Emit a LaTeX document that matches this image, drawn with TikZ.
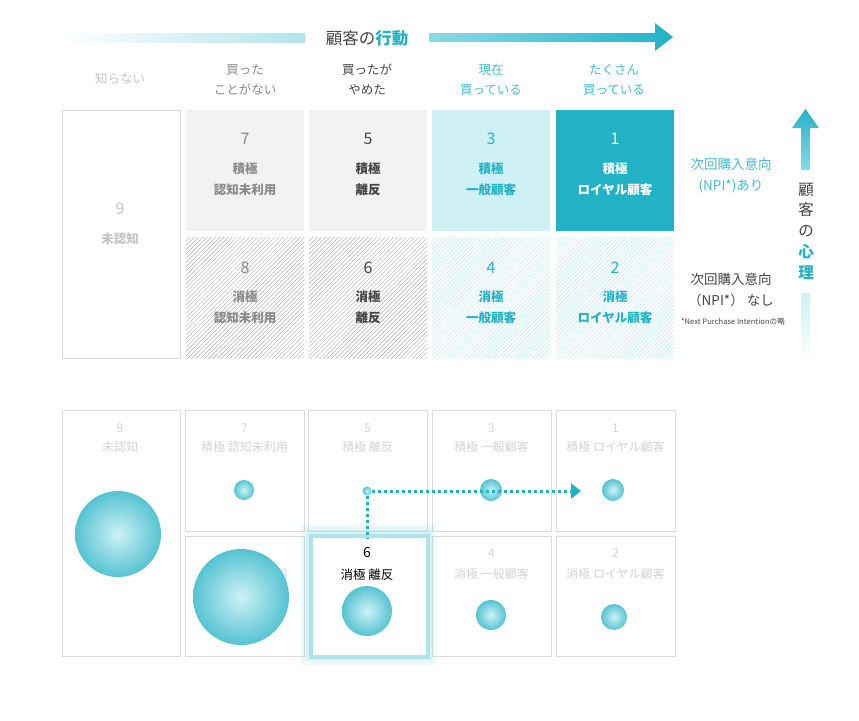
\documentclass[tikz,border=0pt]{standalone}
\usepackage{fontspec}
\setmainfont{Noto Sans CJK JP}
\usetikzlibrary{arrows.meta,patterns.meta}
\definecolor{tealmain}{HTML}{22B2C6}
\definecolor{teallight}{HTML}{CFF1F5}
\definecolor{teallite}{HTML}{8DD9E3}
\definecolor{tealhatch}{HTML}{B4E6ED}
\definecolor{ballin}{HTML}{CDF2F6}
\definecolor{ballout}{HTML}{55C3D2}
\definecolor{boxgray}{HTML}{F2F2F2}
\definecolor{linegray}{HTML}{DADADA}
\definecolor{hatchgray}{HTML}{ABABAB}
\definecolor{txtgray}{HTML}{8A8A8A}
\definecolor{txtdark}{HTML}{444444}
\definecolor{txtpale}{HTML}{C4C4C4}
\definecolor{txtfaint}{HTML}{D4D4D4}

\begin{document}
\begin{tikzpicture}[x=1pt,y=-1pt,
  cell/.style={anchor=north west,inner sep=0pt,minimum width=118pt,minimum height=121pt},
  frame/.style={anchor=north west,inner sep=0pt,draw=linegray,line width=1pt,fill=white,minimum width=119pt,minimum height=121pt},
  num/.style={font=\fontsize{16}{16}\selectfont},
  lab/.style={font=\fontsize{12.5}{21}\selectfont\bfseries,align=center},
  head/.style={font=\fontsize{12.5}{20}\selectfont,align=center},
  faint/.style={text=txtfaint,font=\fontsize{12}{12}\selectfont},
  ball/.style={circle,inner sep=0pt,shading=radial,inner color=ballin,outer color=ballout},
  hatch/.style={pattern={Lines[angle=45,distance=3pt,line width=.45pt]}},
  dotline/.style={tealmain,line width=3pt,dash pattern=on 3pt off 3pt}
]
\useasboundingbox (0,0) rectangle (859,720);

\shade[left color=white,right color=tealmain!35] (60,33) rectangle (305,42);
\node[font=\fontsize{16.5}{16.5}\selectfont,text=txtdark] (title) at (367,38) {顧客の{\color{tealmain}\bfseries 行動}};
\shade[left color=teallite,right color=tealmain] (429,33) -- (655,33) -- (655,23) -- (673,37) -- (655,51) -- (655,42) -- (429,42) -- cycle;

\node[head,text=txtpale] (h9) at (120,79) {知らない};
\node[head,text=txtgray] (h7) at (245,80) {買った\\ことがない};
\node[head,text=txtdark] (h5) at (367,80) {買ったが\\やめた};
\node[head,text=tealmain!85] (h3) at (491,80) {現在\\買っている};
\node[head,text=tealmain!85] (h1) at (614,80) {たくさん\\買っている};

\node[cell,draw=linegray,line width=1pt,fill=white,minimum height=248pt] (t9) at (62,110) {};
\node[num,text=txtpale] (n9) at (120,209) {9};
\node[lab,text=txtpale] (l9) at (120,239) {未認知};
\foreach \x/\n/\fc/\tc/\lab in {186/7/boxgray/txtgray/認知未利用, 309/5/boxgray/txtdark/離反, 432/3/teallight/tealmain/一般顧客, 556/1/tealmain/white/ロイヤル顧客}
{
  \node[cell,fill=\fc] (t\n) at (\x,110) {};
  \node[num,text=\tc] (n\n) at (\x+59,139) {\n};
  \node[lab,text=\tc] (l\n) at (\x+59,179.5) {積極\\\lab};
}
\foreach \x/\n/\pc/\tc/\lab in {186/8/hatchgray/txtgray/認知未利用, 309/6/hatchgray/txtdark/離反, 432/4/tealhatch/tealmain/一般顧客, 556/2/tealhatch/tealmain/ロイヤル顧客}
{
  \node[cell,hatch,pattern color=\pc] (t\n) at (\x,237) {};
  \node[num,text=\tc] (n\n) at (\x+59,268) {\n};
  \node[lab,text=\tc] (l\n) at (\x+59,307.5) {消極\\\lab};
}

\node[head,font=\fontsize{13.5}{21}\selectfont,text=tealmain!85] (npi1) at (731,175.5) {次回購入意向\\(NPI*)あり};
\node[head,font=\fontsize{13.5}{21}\selectfont,text=txtdark] (npi0) at (731,289.5) {次回購入意向\\（NPI*） なし};
\node[font=\fontsize{7.6}{7.6}\selectfont,text=txtdark] (note) at (733,322) {*Next Purchase Intentionの略};

\shade[top color=tealmain,bottom color=teallite] (801,170) -- (801,128) -- (792,128) -- (805.5,109) -- (819,128) -- (810,128) -- (810,170) -- cycle;
\shade[top color=teallight,bottom color=white] (801,293) rectangle (810,362);
\node[font=\fontsize{15.5}{20.7}\selectfont,text=txtdark,align=center] (mind) at (806,231) {顧\\客\\の\\{\color{tealmain}\bfseries 心}\\{\color{tealmain}\bfseries 理}};

\node[frame,minimum width=118pt,minimum height=246pt] (b9) at (62,410) {};
\node[faint] (m9) at (120,428) {9};
\node[faint] (k9) at (120,447) {未認知};
\foreach \x/\n/\lab in {185/7/認知未利用, 308/5/離反, 432/3/一般顧客, 556/1/ロイヤル顧客}
{
  \node[frame] (b\n) at (\x,410) {};
  \node[faint] (m\n) at (\x+59.5,428) {\n};
  \node[faint] (k\n) at (\x+59.5,447) {積極 \lab};
}
\foreach \x/\n/\lab in {185/8/認知未利用, 432/4/一般顧客, 556/2/ロイヤル顧客}
{
  \node[frame,minimum height=120pt] (b\n) at (\x,536) {};
  \node[faint] (m\n) at (\x+59.5,553) {\n};
  \node[faint] (k\n) at (\x+59.5,574) {消極 \lab};
}
\foreach \w/\o in {22/0.05,17/0.07,12/0.1,7/0.18}
  \draw[teallite,opacity=\o,line width=\w pt] (309,533) rectangle (428,656);
\node[frame,draw=teallite!70,line width=4pt,minimum width=117pt,minimum height=121pt] (b6) at (309,534) {};
\node[font=\fontsize{14}{14}\selectfont,text=black] (m6) at (367,553) {6};
\node[font=\fontsize{12.5}{12.5}\selectfont,text=black] (k6) at (367,575) {消極 離反};

\node[ball,minimum size=86pt] (s9) at (118,534) {};
\node[ball,minimum size=20pt] (s7) at (244,490) {};
\node[ball,minimum size=22pt] (s3) at (491,490) {};
\node[ball,minimum size=22pt] (s1) at (613,490) {};
\node[ball,minimum size=96pt] (s8) at (241,597) {};
\node[ball,minimum size=50pt] (s6) at (367,611) {};
\node[ball,minimum size=30pt] (s4) at (491,615) {};
\node[ball,minimum size=26pt] (s2) at (614,617) {};
\node[ball,minimum size=9pt] (s5) at (367,491) {};

\coordinate (d6) at (367,538);
\coordinate (d1) at (581,491);
\draw[dotline] (s5) -- (d6);
\draw[dotline,-{Triangle[length=10pt,width=15pt]}] (s5) -- (d1);
\end{tikzpicture}
\end{document}
